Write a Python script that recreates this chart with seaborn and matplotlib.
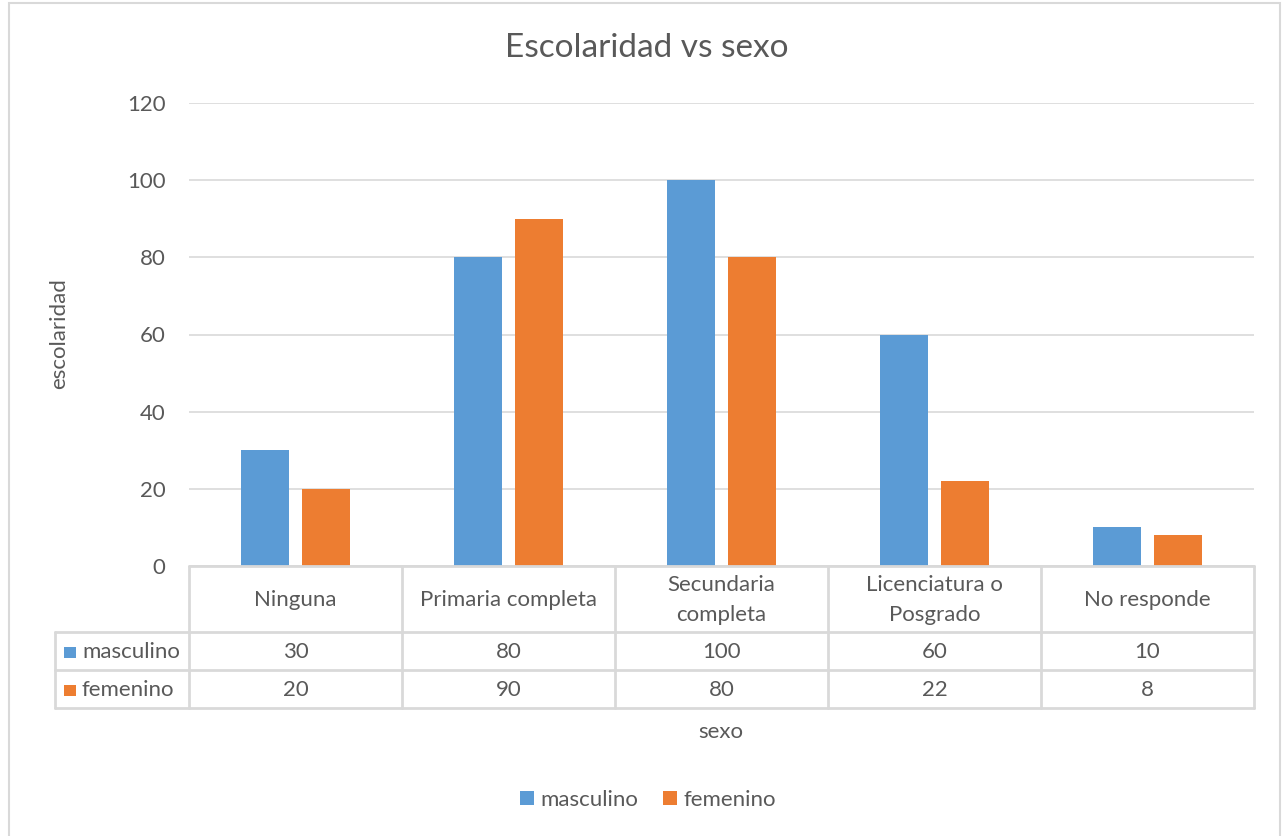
import matplotlib
matplotlib.use("Agg")
import matplotlib.pyplot as plt
import matplotlib.transforms as mtransforms
from matplotlib.patches import Rectangle
from matplotlib.lines import Line2D
import seaborn as sns
import pandas as pd

# Datos
categorias = ["Ninguna", "Primaria completa", "Secundaria\ncompleta",
              "Licenciatura o\nPosgrado", "No responde"]
series = ["masculino", "femenino"]
masculino = [30, 80, 100, 60, 10]
femenino = [20, 90, 80, 22, 8]
colores = ["#5B9BD5", "#ED7D31"]
yticks = [0, 20, 40, 60, 80, 100, 120]

sns.set_theme(style="white")
plt.rcParams["font.family"] = ["Lato", "DejaVu Sans"]
TXT = "#595959"
GRID = "#D9D9D9"
FS = 16

df = pd.DataFrame({
    "categoria": categorias * 2,
    "sexo": [series[0]] * len(categorias) + [series[1]] * len(categorias),
    "valor": masculino + femenino,
})

W, H = 1283, 836
fig = plt.figure(figsize=(W / 100, H / 100), dpi=100)
fig.patch.set_facecolor("white")


def fx(px):
    return px / W


def fy(py):
    return 1 - py / H


ax = fig.add_axes([fx(189), fy(566), fx(1254) - fx(189), fy(103) - fy(566)])
sns.barplot(data=df, x="categoria", y="valor", hue="sexo", order=categorias,
            hue_order=series, palette=colores, width=0.573, gap=0.21,
            saturation=1, linewidth=0, legend=False, ax=ax)
ax.set_xlim(-0.5, len(categorias) - 0.5)
ax.set_ylim(0, 120)
ax.set_yticks(yticks)
ax.yaxis.grid(True, color=GRID, lw=1.2)
ax.set_axisbelow(True)
for s in ax.spines.values():
    s.set_visible(False)
ax.tick_params(axis="y", length=0, pad=17, labelsize=FS, labelcolor=TXT)
ax.set_xticks([])
ax.set_xlabel("")
ax.set_ylabel("")

# Marco exterior del gráfico
fig.add_artist(Rectangle((fx(9), fy(840)), fx(1280) - fx(9), fy(3) - fy(840),
                         transform=fig.transFigure, fill=False,
                         edgecolor=GRID, lw=1.5))


# Tabla de datos bajo el eje
def hline(y, x0, x1):
    fig.add_artist(Line2D([fx(x0), fx(x1)], [fy(y), fy(y)],
                          transform=fig.transFigure, color=GRID, lw=2))


def vline(x, y0, y1):
    fig.add_artist(Line2D([fx(x), fx(x)], [fy(y0), fy(y1)],
                          transform=fig.transFigure, color=GRID, lw=2))


hline(566, 189, 1254)
for y in (632, 670, 708):
    hline(y, 55, 1254)
vline(55, 632, 708)
for i in range(len(categorias) + 1):
    xp = 189 + i * (1254 - 189) / len(categorias)
    vline(xp, 566, 708)

tr = mtransforms.blended_transform_factory(ax.transData, fig.transFigure)
for i, cat in enumerate(categorias):
    ax.text(i, fy(600), cat, transform=tr, ha="center", va="center",
            fontsize=FS, color=TXT, linespacing=1.6)
    ax.text(i, fy(652), str(masculino[i]), transform=tr, ha="center",
            va="center", fontsize=FS, color=TXT)
    ax.text(i, fy(690), str(femenino[i]), transform=tr, ha="center",
            va="center", fontsize=FS, color=TXT)

for name, col, yc in zip(series, colores, (652, 690)):
    fig.add_artist(Rectangle((fx(64), fy(yc + 5.5)), fx(12), 11 / H,
                             transform=fig.transFigure, color=col, lw=0))
    fig.text(fx(82), fy(yc), name, ha="left", va="center", fontsize=FS,
             color=TXT)

# Títulos
fig.text(fx(647), fy(48), "Escolaridad vs sexo", ha="center", va="center",
         fontsize=24, color=TXT)
fig.text(fx(59), fy(334), "escolaridad", ha="center", va="center",
         rotation=90, fontsize=FS, color=TXT)
fig.text(fx(721), fy(732), "sexo", ha="center", va="center", fontsize=FS,
         color=TXT)

# Leyenda
handles = [Rectangle((0, 0), 1, 1, color=c, lw=0) for c in colores]
fig.legend(handles, series, loc="center", bbox_to_anchor=(fx(648), fy(800)),
           ncol=2, frameon=False, fontsize=FS, labelcolor=TXT,
           handlelength=0.63, handleheight=0.63, handletextpad=0.3,
           columnspacing=1.1, borderpad=0, borderaxespad=0)

fig.savefig("out.png", dpi=100, facecolor="white")
